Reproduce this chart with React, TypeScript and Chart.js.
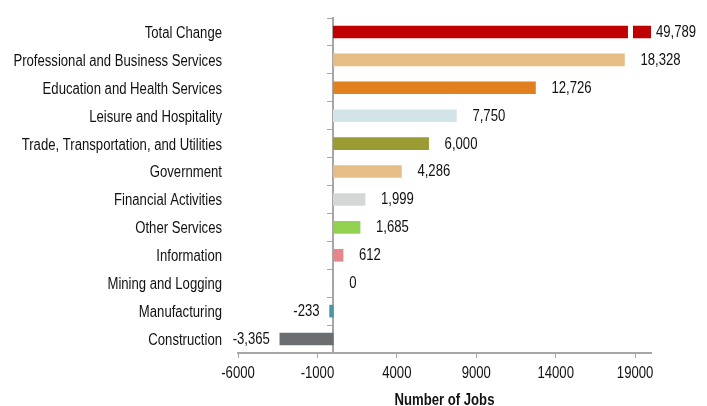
import { useEffect, useRef } from "react";
import { Chart, registerables } from "chart.js";

Chart.register(...registerables);

const categories = [
  "Total Change",
  "Professional and Business Services",
  "Education and Health Services",
  "Leisure and Hospitality",
  "Trade, Transportation, and Utilities",
  "Government",
  "Financial Activities",
  "Other Services",
  "Information",
  "Mining and Logging",
  "Manufacturing",
  "Construction",
];

const jobChanges = [49789, 18328, 12726, 7750, 6000, 4286, 1999, 1685, 612, 0, -233, -3365];

const barColors = [
  "#C00000",
  "#E6BD85",
  "#E27F1F",
  "#D2E4E8",
  "#9B9B33",
  "#E6BC87",
  "#D3D7D8",
  "#92D050",
  "#E4868B",
  "#A0A0A0",
  "#4A97A8",
  "#6B6E70",
];

const xTickValues = [-6000, -1000, 4000, 9000, 14000, 19000];
const xMin = -6000;
const xMax = 20000;
const breakValue = 18550;
const xTitle = "Number of Jobs";

const FONT = '"Liberation Sans", Arial, sans-serif';
const NARROW = 0.82;
const AXIS_GRAY = "#a6a6a6";

const fmt = (v: number) => v.toLocaleString("en-US");

function narrowText(ctx: CanvasRenderingContext2D, text: string, x: number, y: number, align: CanvasTextAlign) {
  ctx.save();
  ctx.translate(x, y);
  ctx.scale(NARROW, 1);
  ctx.textAlign = align;
  ctx.textBaseline = "middle";
  ctx.fillText(text, 0, 0);
  ctx.restore();
}

const textPlugin = {
  id: "narrowTexts",
  afterDatasetsDraw(chart: any) {
    const meta = chart.getDatasetMeta(0);
    const { ctx, chartArea } = chart;
    const xs = chart.scales.x;
    const ys = chart.scales.y;
    ctx.save();
    ctx.fillStyle = "#111";
    ctx.font = `16px ${FONT}`;

    // category labels
    categories.forEach((c, i) => {
      narrowText(ctx, c, chartArea.left - 16, ys.getPixelForValue(i) + 1.5, "right");
    });

    // x tick labels
    xTickValues.forEach((v) => {
      narrowText(ctx, String(v), xs.getPixelForValue(v), chartArea.bottom + 21, "center");
    });

    // value labels and break
    meta.data.forEach((bar: any, i: number) => {
      const v = jobChanges[i];
      const { x, y, height } = bar.getProps(["x", "y", "height"], true);
      ctx.fillStyle = "#111";
      if (v < 0) {
        narrowText(ctx, fmt(v), x - 10, y + 0.5, "right");
      } else {
        const clipped = x > chartArea.right;
        const end = Math.min(x, chartArea.right);
        narrowText(ctx, fmt(v), end + (clipped ? 5 : 16), y + 0.5, "left");
        if (clipped) {
          const bx = xs.getPixelForValue(breakValue);
          ctx.fillStyle = "#fff";
          ctx.fillRect(bx, y - height / 2 - 1, 5, height + 2);
        }
      }
    });

    // axis title
    ctx.fillStyle = "#111";
    ctx.font = `bold 16px ${FONT}`;
    narrowText(ctx, xTitle, (chartArea.left + chartArea.right) / 2, chartArea.bottom + 48, "center");
    ctx.restore();
  },
};

export default function App() {
  const canvasRef = useRef<HTMLCanvasElement | null>(null);

  useEffect(() => {
    document.body.style.margin = "0";
    const canvas = canvasRef.current;
    if (!canvas) return;
    const chart = new Chart(canvas, {
      type: "bar",
      data: {
        labels: categories,
        datasets: [
          {
            data: jobChanges,
            backgroundColor: barColors,
            barThickness: 12,
            yAxisID: "y",
            xAxisID: "x",
            clip: 0,
          } as any,
        ],
      },
      options: {
        indexAxis: "y",
        responsive: false,
        animation: false,
        layout: { padding: { left: 0, right: 56, top: 18, bottom: 0 } },
        plugins: {
          legend: { display: false },
          tooltip: { enabled: false },
        },
        scales: {
          x: {
            type: "linear",
            min: xMin,
            max: xMax,
            afterBuildTicks: (s: any) => {
              s.ticks = xTickValues.map((value) => ({ value }));
            },
            afterFit: (s: any) => {
              s.height = 53;
            },
            grid: {
              drawOnChartArea: false,
              drawTicks: true,
              tickLength: 5,
              color: AXIS_GRAY,
              lineWidth: 1,
            },
            border: { display: true, color: AXIS_GRAY, width: 2 },
            ticks: { display: false, autoSkip: false },
            title: { display: false },
          },
          y: {
            type: "category",
            position: "left",
            afterFit: (s: any) => {
              s.width = 238;
            },
            grid: { display: false, drawTicks: false },
            border: { display: false },
            ticks: { display: false, autoSkip: false },
          },
          y2: {
            type: "category",
            axis: "y",
            position: { x: 0 },
            z: 1,
            grid: {
              drawOnChartArea: false,
              offset: true,
              drawTicks: true,
              tickLength: 5,
              color: AXIS_GRAY,
              lineWidth: 1,
            },
            border: { display: true, color: AXIS_GRAY, width: 2 },
            ticks: { display: false },
          } as any,
        },
      },
      plugins: [textPlugin],
    });
    return () => chart.destroy();
  }, []);

  return (
    <div style={{ width: 707, height: 406 }}>
      <canvas ref={canvasRef} width={707} height={406} style={{ display: "block" }} />
    </div>
  );
}
